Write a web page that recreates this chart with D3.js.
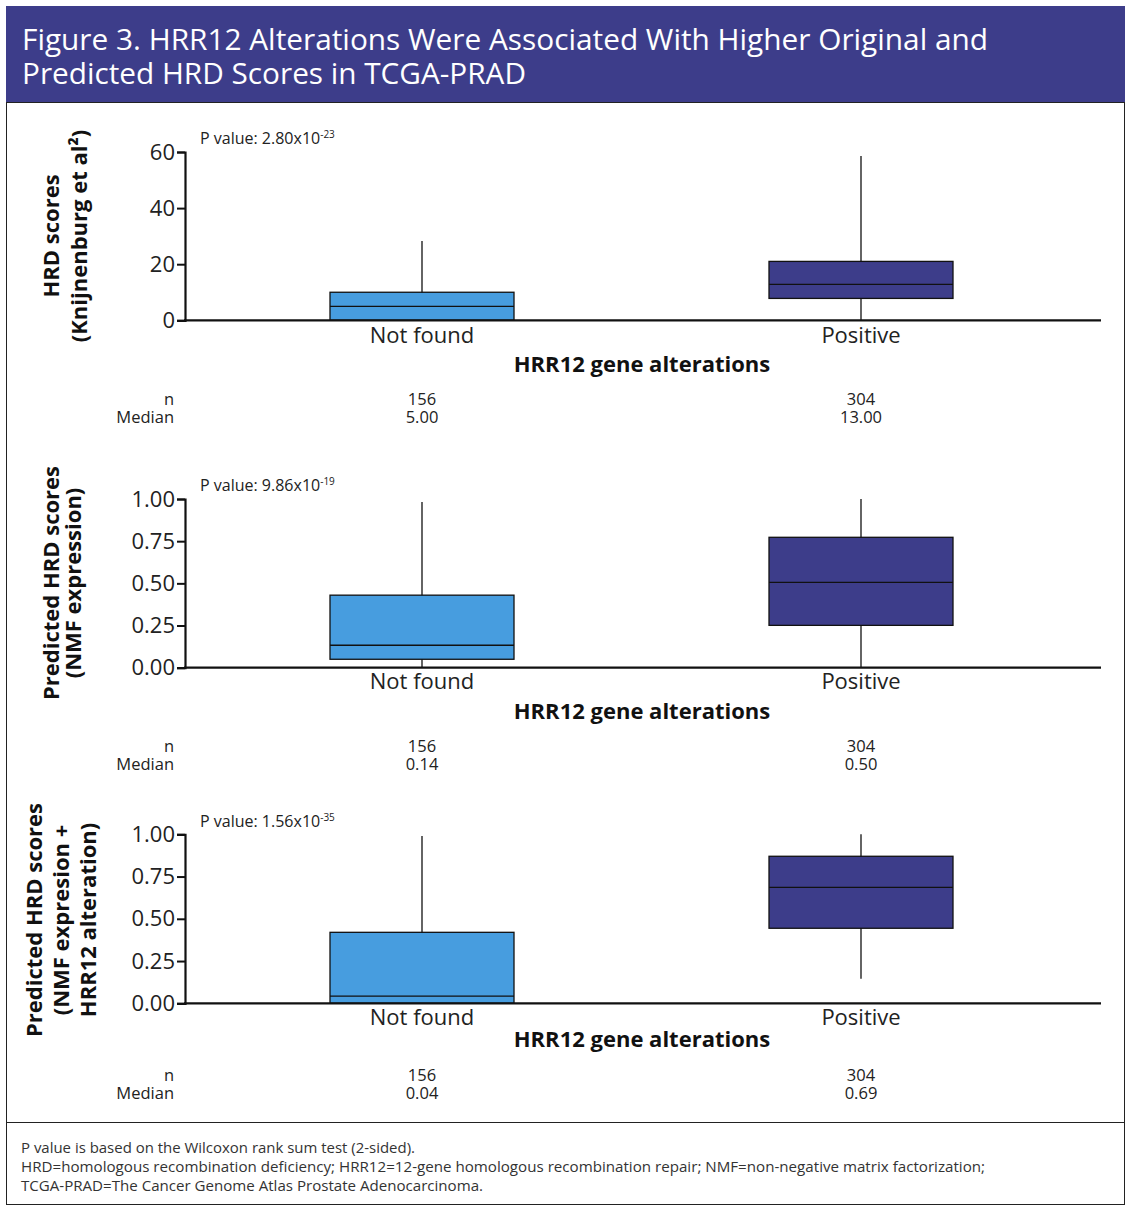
<!DOCTYPE html>
<html><head><meta charset="utf-8">
<script src="https://cdn.jsdelivr.net/npm/d3@7"></script>
<style>
body{margin:0;background:#fff;}
svg text{font-family:"Open Sans",sans-serif;}
</style></head>
<body>
<svg id="chart" width="1131" height="1216"></svg>
<script>
const titleLines = ["Figure 3. HRR12 Alterations Were Associated With Higher Original and", "Predicted HRD Scores in TCGA-PRAD"];
const categories = ["Not found", "Positive"];
const xAxisTitle = "HRR12 gene alterations";
const nValues = [156, 304];
// box stats per panel: [whiskerLow, q1, median, q3, whiskerHigh]
const panel1Boxes = [[0, 0, 5, 10, 28.3], [0, 7.8, 12.8, 21, 58.6]];
const panel2Boxes = [[0, 0.05, 0.133, 0.43, 0.982], [0, 0.251, 0.506, 0.773, 1.0]];
const panel3Boxes = [[0, 0, 0.043, 0.42, 0.99], [0.146, 0.444, 0.686, 0.87, 1.0]];
const panel1Ticks = [0, 20, 40, 60];
const panel2Ticks = [0, 0.25, 0.5, 0.75, 1];
const panel3Ticks = [0, 0.25, 0.5, 0.75, 1];
const medianLabels = [["5.00", "13.00"], ["0.14", "0.50"], ["0.04", "0.69"]];
const pValues = [["2.80x10", "-23"], ["9.86x10", "-19"], ["1.56x10", "-35"]];
const yTitles = [["HRD scores", "(Knijnenburg et al²)"], ["Predicted HRD scores", "(NMF expression)"], ["Predicted HRD scores", "(NMF expresion +", "HRR12 alteration)"]];
const footnotes = ["P value is based on the Wilcoxon rank sum test (2-sided).", "HRD=homologous recombination deficiency; HRR12=12-gene homologous recombination repair; NMF=non-negative matrix factorization;", "TCGA-PRAD=The Cancer Genome Atlas Prostate Adenocarcinoma."];

const navy = "#3d3d8a", lightBlue = "#479ddf";
const svg = d3.select("#chart");

// frame
svg.append("rect").attr("x", 6.5).attr("y", 6.5).attr("width", 1118).attr("height", 1198).attr("fill", "none").attr("stroke", "#222").attr("stroke-width", 1);
svg.append("rect").attr("x", 6).attr("y", 6).attr("width", 1119).attr("height", 96).attr("fill", navy);
svg.append("line").attr("x1", 6).attr("x2", 1125).attr("y1", 102.5).attr("y2", 102.5).attr("stroke", "#222");
const tl = [966, 504];
titleLines.forEach((t, i) => {
  svg.append("text").attr("x", 22).attr("y", 50 + i * 34).attr("fill", "#fff").attr("font-size", 30)
    .attr("textLength", tl[i]).attr("lengthAdjust", "spacingAndGlyphs").text(t);
});

const x = d3.scalePoint().domain(categories).range([422, 861]);
const boxW = 184;

const panels = [
  {boxes: panel1Boxes, ticks: panel1Ticks, domain: [0, 60], top: 152, base: 320.3, fmt: d3.format("d"), pY: 144, catDy: 23, titleDy: 52, nDy: 85, titleX: [50, 78], titleY: 236},
  {boxes: panel2Boxes, ticks: panel2Ticks, domain: [0, 1], top: 499, base: 667.7, fmt: d3.format(".2f"), pY: 491, catDy: 21, titleDy: 51, nDy: 84, titleX: [50, 72], titleY: 583},
  {boxes: panel3Boxes, ticks: panel3Ticks, domain: [0, 1], top: 834.3, base: 1003.3, fmt: d3.format(".2f"), pY: 827, catDy: 22, titleDy: 44, nDy: 78, titleX: [33, 60, 87], titleY: 920}
];

panels.forEach((p, pi) => {
  const y = d3.scaleLinear().domain(p.domain).range([p.base, p.top]);
  const g = svg.append("g");
  // y axis
  const ax = g.append("g").attr("transform", "translate(185,0)")
    .call(d3.axisLeft(y).tickValues(p.ticks).tickFormat(p.fmt).tickSize(8).tickPadding(2));
  ax.select(".domain").attr("stroke-width", 2.2).attr("stroke", "#111");
  ax.selectAll(".tick line").attr("stroke-width", 2).attr("stroke", "#111");
  ax.selectAll(".tick text").attr("font-size", 22).attr("fill", "#222").attr("font-family", "Open Sans");
  // boxes
  p.boxes.forEach((b, i) => {
    const cx = x(categories[i]);
    const fill = i === 0 ? lightBlue : navy;
    g.append("line").attr("x1", cx).attr("x2", cx).attr("y1", y(b[4])).attr("y2", y(b[0])).attr("stroke", "#111").attr("stroke-width", 1.3);
    g.append("rect").attr("x", cx - boxW / 2).attr("y", y(b[3])).attr("width", boxW).attr("height", y(b[1]) - y(b[3]))
      .attr("fill", fill).attr("stroke", "#111").attr("stroke-width", 1.3);
    g.append("line").attr("x1", cx - boxW / 2).attr("x2", cx + boxW / 2).attr("y1", y(b[2])).attr("y2", y(b[2])).attr("stroke", "#111").attr("stroke-width", 1.3);
  });
  // x axis line
  g.append("line").attr("x1", 184).attr("x2", 1101).attr("y1", p.base).attr("y2", p.base).attr("stroke", "#111").attr("stroke-width", 2.2);
  // category labels
  categories.forEach(c => {
    g.append("text").attr("x", x(c)).attr("y", p.base + p.catDy).attr("text-anchor", "middle").attr("font-size", 22).attr("fill", "#222").text(c);
  });
  g.append("text").attr("x", 642).attr("y", p.base + p.titleDy).attr("text-anchor", "middle").attr("font-size", 22).attr("font-weight", "bold").attr("fill", "#111").text(xAxisTitle);
  // n / median
  g.append("text").attr("x", 174).attr("y", p.base + p.nDy).attr("text-anchor", "end").attr("font-size", 16.5).attr("fill", "#222").text("n");
  g.append("text").attr("x", 174).attr("y", p.base + p.nDy + 18).attr("text-anchor", "end").attr("font-size", 16.5).attr("fill", "#222").text("Median");
  categories.forEach((c, i) => {
    g.append("text").attr("x", x(c)).attr("y", p.base + p.nDy).attr("text-anchor", "middle").attr("font-size", 16.5).attr("fill", "#222").text(nValues[i]);
    g.append("text").attr("x", x(c)).attr("y", p.base + p.nDy + 18).attr("text-anchor", "middle").attr("font-size", 16.5).attr("fill", "#222").text(medianLabels[pi][i]);
  });
  // p value
  const pt = g.append("text").attr("x", 200).attr("y", p.pY).attr("font-size", 16).attr("fill", "#222");
  pt.append("tspan").text("P value: " + pValues[pi][0]);
  pt.append("tspan").attr("font-size", 10).attr("dy", -6).text(pValues[pi][1]);
  // y title
  yTitles[pi].forEach((t, li) => {
    g.append("text").attr("transform", `translate(${p.titleX[li]},${p.titleY}) rotate(-90)`)
      .attr("text-anchor", "middle").attr("dominant-baseline", "central").attr("font-size", 22).attr("font-weight", "bold").attr("fill", "#111").text(t);
  });
});

// footnote
svg.append("line").attr("x1", 6).attr("x2", 1125).attr("y1", 1122.5).attr("y2", 1122.5).attr("stroke", "#222");
const fl = [394, 964, 462];
footnotes.forEach((t, i) => {
  svg.append("text").attr("x", 21).attr("y", 1153 + i * 19).attr("font-size", 14).attr("fill", "#333")
    .attr("textLength", fl[i]).attr("lengthAdjust", "spacingAndGlyphs").text(t);
});
</script>
</body></html>
